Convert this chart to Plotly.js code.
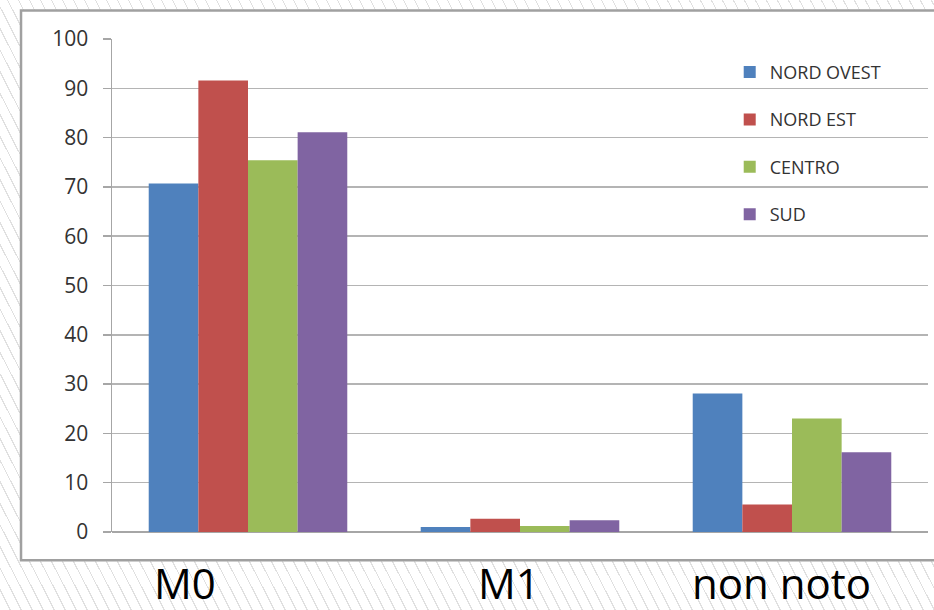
<!DOCTYPE html>
<html>
<head>
<meta charset="utf-8">
<script src="https://cdn.plot.ly/plotly-3.0.1.min.js"></script>
<style>
  html, body { margin: 0; padding: 0; }
  body {
    width: 934px; height: 610px; overflow: hidden;
    background-color: #ffffff;
    background-image: repeating-linear-gradient(63deg, #ffffff 0px, #ffffff 8.6px, #e0e0e0 8.6px, #e0e0e0 9.8px);
  }
  #chart { width: 934px; height: 610px; }
</style>
</head>
<body>
<div id="chart"></div>
<script>
// ---- data ----
const categories = ["M0", "M1", "non noto"];
const seriesNames = ["NORD OVEST", "NORD EST", "CENTRO", "SUD"];
const nordOvest = [70.7, 1.0, 28.1];
const nordEst   = [91.6, 2.7, 5.6];
const centro    = [75.4, 1.2, 23.0];
const sud       = [81.1, 2.4, 16.2];
const yTickVals = [0, 10, 20, 30, 40, 50, 60, 70, 80, 90, 100];

// ---- styles ----
const colors = ["#4f81bd", "#c0504d", "#9bbb59", "#8064a2"];
const labelShift = [-63, -11, -11];
const allSeries = [nordOvest, nordEst, centro, sud];

const traces = allSeries.map((vals, i) => ({
  type: "bar",
  name: seriesNames[i],
  x: categories,
  y: vals,
  marker: { color: colors[i] },
  legendgroup: "g" + i,
  hoverinfo: "x+y+name"
}));

const annotations = categories.map((c, i) => ({
  text: c,
  x: c, xref: "x",
  y: 0, yref: "paper",
  xanchor: "center", yanchor: "middle",
  xshift: labelShift[i], yshift: -50,
  showarrow: false,
  font: { family: "Open Sans, sans-serif", size: 42, color: "#000000" }
}));

const layout = {
  width: 934, height: 610,
  margin: { l: 112, r: 6, t: 38.5, b: 78.3, pad: 0 },
  paper_bgcolor: "rgba(0,0,0,0)",
  plot_bgcolor: "rgba(0,0,0,0)",
  barmode: "group",
  bargap: 0.27,
  bargroupgap: 0,
  showlegend: true,
  legend: {
    x: 0.757, xanchor: "left",
    y: 0.97, yanchor: "top",
    bgcolor: "rgba(0,0,0,0)",
    font: { family: "Open Sans, sans-serif", size: 18, color: "#333333" },
    tracegroupgap: 21,
    itemclick: false
  },
  xaxis: {
    type: "category",
    showticklabels: false,
    ticks: "",
    showgrid: false,
    showline: false,
    zeroline: false
  },
  yaxis: {
    range: [0, 100],
    tickvals: yTickVals,
    ticks: "outside",
    ticklen: 8,
    tickwidth: 1.5,
    tickcolor: "#a6a6a6",
    showline: true,
    linecolor: "#a6a6a6",
    linewidth: 1.5,
    showgrid: true,
    gridcolor: "#b4b4b4",
    gridwidth: 1.5,
    zeroline: true,
    zerolinecolor: "#a6a6a6",
    zerolinewidth: 1.5,
    tickfont: { family: "Open Sans, sans-serif", size: 21, color: "#333333" },
    ticklabelstandoff: 10
  },
  shapes: [{
    type: "rect", xref: "paper", yref: "paper", layer: "below",
    x0: -0.1115, x1: 1.02, y0: -0.0574, y1: 1.0578,
    fillcolor: "#ffffff",
    line: { color: "#a0a0a0", width: 2.5 }
  }],
  annotations: annotations
};

Plotly.newPlot("chart", traces, layout, { displayModeBar: false, staticPlot: true });
</script>
</body>
</html>
